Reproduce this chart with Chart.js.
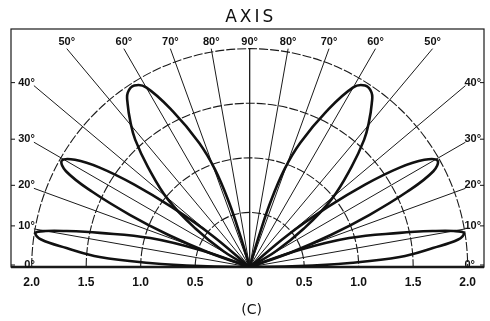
<!DOCTYPE html>
<html>
<head>
<meta charset="utf-8">
<script src="https://cdn.jsdelivr.net/npm/chart.js@4/dist/chart.umd.min.js"></script>
<style>
  html, body { margin: 0; padding: 0; background: #fff; }
  canvas { display: block; }
</style>
</head>
<body>
<canvas id="chart" width="490" height="321"></canvas>
<script>
// --- Lobe outlines: elevation (deg) and relative field ---
// each outline goes origin -> upper edge -> tip -> lower edge -> origin (right side, left is its mirror)
const LOW_ANGLE  = [20, 18.8, 16.2, 12.8, 11.1, 10, 9, 7.5, 5.9, 3.8, 2.3, 1, 0];
const LOW_R      = [0, 0.48, 0.95, 1.41, 1.71, 1.9, 1.99, 1.93, 1.69, 1.38, 0.92, 0.45, 0];
const MID_ANGLE  = [42, 40, 37.5, 35.5, 33.5, 31.5, 29.5, 27.5, 25.5, 23.5, 21.5, 19.5, 18];
const MID_R      = [0, 0.45, 0.9, 1.3, 1.65, 1.88, 1.98, 1.9, 1.6, 1.2, 0.8, 0.4, 0];
const HIGH_ANGLE = [74, 73.3, 72.2, 70.4, 67.8, 63.7, 60, 57.5, 55, 53.2, 50.5, 48, 44.5, 39.5, 35.3, 31, 29];
const HIGH_R     = [0, 0.3, 0.63, 0.95, 1.23, 1.59, 1.9, 1.97, 1.95, 1.87, 1.72, 1.57, 1.31, 0.97, 0.61, 0.28, 0];

// grid and labels
const RINGS = [0.5, 1.0, 1.5, 2.0];
const SPOKES = [0, 10, 20, 30, 40, 50, 60, 70, 80, 90];
const RING_TICKS = [-2, -1.5, -1, -0.5, 0, 0.5, 1, 1.5, 2];
const RING_LABELS = ['2.0', '1.5', '1.0', '0.5', '0', '0.5', '1.0', '1.5', '2.0'];
const TITLE = 'AXIS';
const CAPTION = '(C)';

function outline(angles, radii, left) {
  return angles.map((a, i) => {
    const t = (left ? 180 - a : a) * Math.PI / 180;
    return { x: radii[i] * Math.cos(t), y: radii[i] * Math.sin(t) };
  });
}

function lobe(angles, radii, left) {
  return {
    data: outline(angles, radii, left),
    showLine: true,
    borderColor: '#111',
    borderWidth: 2.6,
    pointRadius: 0,
    tension: 0.4,
    fill: false
  };
}

const polarGrid = {
  id: 'polarGrid',
  beforeDatasetsDraw(chart) {
    const { ctx, chartArea: a, scales: { x, y } } = chart;
    const ox = x.getPixelForValue(0), oy = y.getPixelForValue(0);
    const kx = x.getPixelForValue(1) - ox, ky = oy - y.getPixelForValue(1);
    ctx.save();
    ctx.strokeStyle = '#1a1a1a';
    // frame
    ctx.lineWidth = 1.2;
    ctx.strokeRect(a.left, a.top, a.right - a.left, a.bottom - a.top);
    // rings
    ctx.lineWidth = 1.1;
    ctx.setLineDash([9, 2]);
    RINGS.forEach(r => {
      ctx.beginPath();
      ctx.ellipse(ox, oy, r * kx, r * ky, 0, Math.PI, 2 * Math.PI);
      ctx.stroke();
    });
    ctx.setLineDash([]);
    // spokes, both sides
    ctx.lineWidth = 1;
    SPOKES.forEach(deg => {
      const t = deg * Math.PI / 180;
      let ex, ey;
      if (deg <= 45) { ex = 1.98; ey = 1.98 * Math.tan(t); }
      else { ey = 2.0; ex = 2.0 / Math.tan(t); }
      [1, -1].forEach(s => {
        ctx.beginPath();
        ctx.moveTo(ox, oy);
        ctx.lineTo(x.getPixelForValue(s * ex), y.getPixelForValue(ey));
        ctx.stroke();
      });
    });
    // baseline
    ctx.lineWidth = 2.4;
    ctx.beginPath();
    ctx.moveTo(a.left, oy);
    ctx.lineTo(a.right, oy);
    ctx.stroke();
    ctx.restore();
  },
  afterDraw(chart) {
    const { ctx, chartArea: a, scales: { x, y } } = chart;
    const oy = y.getPixelForValue(0);
    ctx.save();
    ctx.fillStyle = '#111';
    ctx.strokeStyle = '#111';
    ctx.textBaseline = 'middle';
    ctx.font = "bold 11px 'Liberation Sans'";
    SPOKES.forEach(deg => {
      const t = deg * Math.PI / 180;
      const label = deg + '°';
      if (deg <= 45) {
        const py = y.getPixelForValue(1.98 * Math.tan(t)) - (deg === 0 ? 2 : 3);
        ctx.textAlign = 'right';
        ctx.fillText(label, x.getPixelForValue(-1.98) + 1, py);
        ctx.textAlign = 'left';
        ctx.fillText(label, x.getPixelForValue(1.98) - 1, py);
        // little ticks on the frame
        ctx.lineWidth = 1;
        ctx.beginPath();
        ctx.moveTo(a.left, py); ctx.lineTo(a.left + 4, py);
        ctx.moveTo(a.right, py); ctx.lineTo(a.right - 4, py);
        ctx.stroke();
      } else {
        const ex = 2.0 / Math.tan(t);
        const py = y.getPixelForValue(2.0) - 7;
        ctx.textAlign = 'center';
        if (deg === 90) {
          ctx.fillText(label, x.getPixelForValue(0), py);
        } else {
          ctx.fillText(label, x.getPixelForValue(-ex), py);
          ctx.fillText(label, x.getPixelForValue(ex), py);
        }
      }
    });
    // ring values along the baseline
    ctx.font = "bold 12px 'Liberation Sans'";
    ctx.textAlign = 'center';
    RING_TICKS.forEach((v, i) => {
      ctx.fillText(RING_LABELS[i], x.getPixelForValue(v), oy + 16);
    });
    // title and caption
    ctx.font = "17px 'DejaVu Sans'";
    ctx.letterSpacing = '3px';
    ctx.fillText(TITLE, x.getPixelForValue(0) + 1, 18);
    ctx.letterSpacing = '0px';
    ctx.font = "14px 'DejaVu Sans'";
    ctx.fillText(CAPTION, x.getPixelForValue(0) + 2, 310);
    ctx.restore();
  }
};

new Chart(document.getElementById('chart'), {
  type: 'scatter',
  data: {
    datasets: [
      lobe(LOW_ANGLE, LOW_R, false),
      lobe(MID_ANGLE, MID_R, false),
      lobe(HIGH_ANGLE, HIGH_R, false),
      lobe(LOW_ANGLE, LOW_R, true),
      lobe(MID_ANGLE, MID_R, true),
      lobe(HIGH_ANGLE, HIGH_R, true)
    ]
  },
  options: {
    responsive: false,
    animation: false,
    layout: { padding: { left: 11, right: 6, top: 29, bottom: 54 } },
    scales: {
      x: { type: 'linear', min: -2.19, max: 2.15, display: false },
      y: { type: 'linear', min: 0, max: 2.18, display: false }
    },
    plugins: { legend: { display: false }, tooltip: { enabled: false }, title: { display: false } }
  },
  plugins: [polarGrid]
});
</script>
</body>
</html>
